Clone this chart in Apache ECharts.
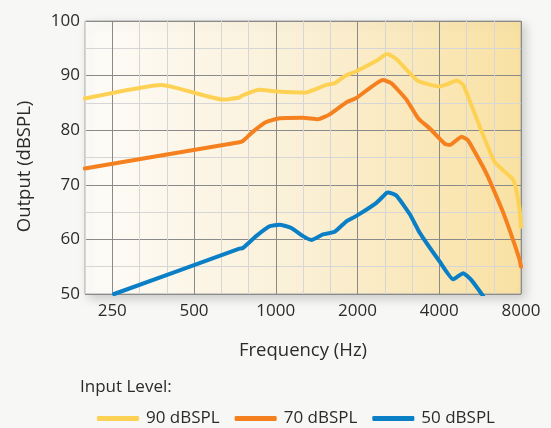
<!DOCTYPE html>
<html>
<head>
<meta charset="utf-8">
<script src="https://cdn.jsdelivr.net/npm/echarts@6/dist/echarts.min.js"></script>
<style>
html,body{margin:0;padding:0;background:#f7f7f5;}
#c{width:551px;height:428px;}
</style>
</head>
<body>
<div id="c"></div>
<script>
// Tick labels (Hz) on the log-frequency axis
const freqTicks = [250, 500, 1000, 2000, 4000, 8000];
const seriesNames = ['90 dBSPL', '70 dBSPL', '50 dBSPL'];

// 90 dBSPL input
const freq90 = [198, 380, 642, 735, 756, 871, 1003, 1295, 1370, 1536, 1649, 1794, 1981, 2348, 2556, 2592, 2784, 3029, 3343, 4020, 4314, 4634, 4900, 5646, 6413, 7490, 7884, 8000];
const out90  = [85.8, 88.3, 85.6, 86.0, 86.4, 87.4, 87.1, 86.9, 87.3, 88.3, 88.6, 89.9, 90.8, 92.7, 93.9, 93.9, 93.0, 91.1, 89.0, 88.0, 88.5, 89.1, 88.3, 80.6, 74.1, 70.9, 66.0, 62.3];

// 70 dBSPL input
const freq70 = [198, 735, 756, 823, 922, 1033, 1260, 1430, 1579, 1820, 1981, 2484, 2666, 3029, 3343, 3693, 4194, 4377, 4835, 5112, 5976, 6882, 7884, 8000];
const out70  = [73.0, 77.8, 78.0, 79.7, 81.5, 82.2, 82.3, 82.0, 82.9, 85.1, 85.9, 89.2, 88.6, 85.6, 82.2, 80.3, 77.5, 77.3, 78.8, 78.1, 72.0, 64.9, 56.5, 55.0];

// 50 dBSPL input
const freq50 = [254, 735, 756, 847, 949, 1033, 1141, 1260, 1353, 1492, 1649, 1820, 1981, 2348, 2556, 2592, 2784, 3117, 3392, 4020, 4503, 4900, 5263, 5808];
const out50  = [50.0, 58.3, 58.4, 60.6, 62.4, 62.7, 62.1, 60.6, 59.9, 60.9, 61.4, 63.3, 64.3, 66.7, 68.5, 68.6, 68.0, 64.6, 61.2, 55.9, 52.7, 53.8, 52.5, 49.6];

const colors = ['#fdd254', '#f4801f', '#0a7fc6'];

// position on axis: third-octave steps relative to 250 Hz
const toX = f => 3 * Math.log2(f / 250);
const pairs = (fs, vs) => fs.map((f, i) => [toX(f), vs[i]]);
const majorX = freqTicks.map(toX);

const font = '"Open Sans", "DejaVu Sans", sans-serif';
const textColor = '#2b2b2b';
const lightGrid = '#d6d6d6';
const darkGrid = '#8a8a8a';

const chart = echarts.init(document.getElementById('c'), null, {renderer: 'canvas'});
chart.setOption({
  backgroundColor: '#f7f7f5',
  animation: false,
  textStyle: {fontFamily: font},
  title: {
    text: 'Input Level:',
    left: 75, top: 374,
    textStyle: {fontFamily: font, fontSize: 17, fontWeight: 'normal', color: textColor}
  },
  legend: {
    data: seriesNames,
    left: 92, top: 405,
    itemWidth: 42, itemHeight: 5,
    itemGap: 15,
    icon: 'roundRect',
    textStyle: {fontFamily: font, fontSize: 17, color: textColor, padding: [0, 0, 0, 2]}
  },
  grid: {
    left: 85, right: 30, top: 21, bottom: 134,
    show: true,
    backgroundColor: new echarts.graphic.LinearGradient(0, 0, 1, 0, [
      {offset: 0, color: '#fdfcf9'},
      {offset: 0.5, color: '#fbf0d6'},
      {offset: 1, color: '#f9e1a2'}
    ]),
    borderColor: '#a9a9a9',
    borderWidth: 1,
    shadowColor: 'rgba(0,0,0,0.18)',
    shadowBlur: 10,
    shadowOffsetX: 4,
    shadowOffsetY: 4
  },
  xAxis: [
    {
      type: 'value', min: -1, max: 15, interval: 1, position: 'bottom',
      axisLine: {show: false}, axisTick: {show: false}, axisLabel: {show: false},
      splitLine: {show: true, lineStyle: {color: lightGrid, width: 1}}
    },
    {
      type: 'value', min: -1, max: 15, position: 'bottom',
      axisLine: {show: false},
      axisTick: {show: false, customValues: majorX},
      axisLabel: {
        customValues: majorX,
        margin: 9, fontFamily: font, fontSize: 17, color: textColor,
        formatter: v => {
          const f = 250 * Math.pow(2, v / 3);
          const t = freqTicks.find(x => Math.abs(x - f) < 1);
          return t ? String(t) : '';
        }
      },
      splitLine: {show: true, lineStyle: {color: darkGrid, width: 1}},
      name: 'Frequency (Hz)', nameLocation: 'middle', nameGap: 47,
      nameTextStyle: {fontFamily: font, fontSize: 18.5, color: textColor}
    }
  ],
  yAxis: [
    {
      type: 'value', min: 50, max: 100, interval: 5, position: 'left',
      axisLine: {show: false}, axisTick: {show: false}, axisLabel: {show: false},
      splitLine: {show: true, lineStyle: {color: lightGrid, width: 1}}
    },
    {
      type: 'value', min: 50, max: 100, interval: 10, position: 'left',
      axisLine: {show: false}, axisTick: {show: false},
      axisLabel: {margin: 5, fontFamily: font, fontSize: 17, color: textColor},
      splitLine: {show: true, lineStyle: {color: darkGrid, width: 1}},
      name: 'Output (dBSPL)', nameLocation: 'middle', nameGap: 51, nameRotate: 90,
      nameTextStyle: {fontFamily: font, fontSize: 18.5, color: textColor, padding: [0, 18, 0, 0]}
    }
  ],
  series: [
    {name: seriesNames[0], type: 'line', xAxisIndex: 1, yAxisIndex: 1, data: pairs(freq90, out90),
     smooth: 0.15, showSymbol: false, color: colors[0], lineStyle: {width: 4, cap: 'round', join: 'round'}},
    {name: seriesNames[1], type: 'line', xAxisIndex: 1, yAxisIndex: 1, data: pairs(freq70, out70),
     smooth: 0.15, showSymbol: false, color: colors[1], lineStyle: {width: 4, cap: 'round', join: 'round'}},
    {name: seriesNames[2], type: 'line', xAxisIndex: 1, yAxisIndex: 1, data: pairs(freq50, out50),
     smooth: 0.15, showSymbol: false, color: colors[2], lineStyle: {width: 4, cap: 'round', join: 'round'}}
  ]
});
</script>
</body>
</html>
